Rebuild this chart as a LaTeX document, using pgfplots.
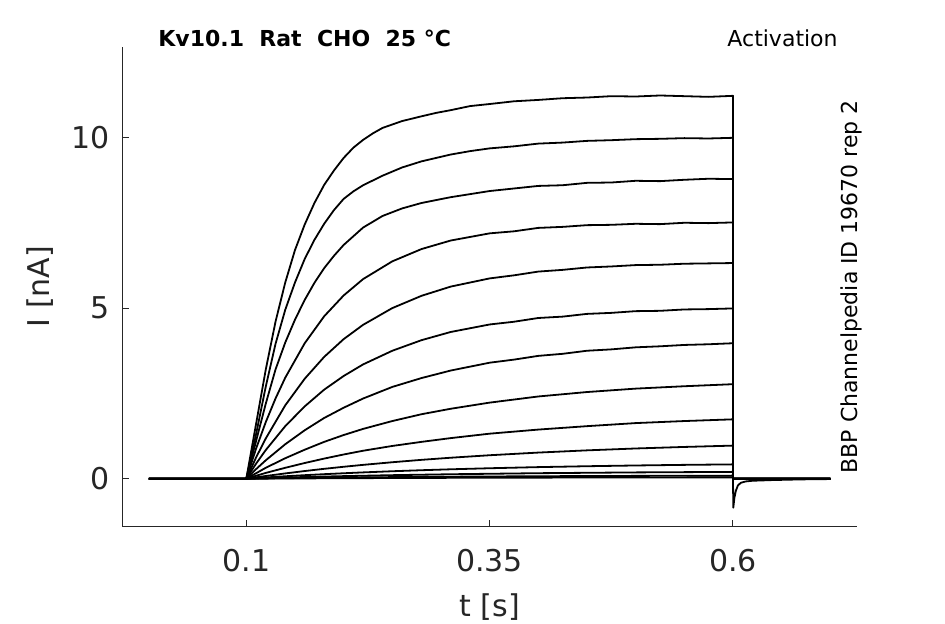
\documentclass[border=0pt]{standalone}
\usepackage{pgfplots}
\pgfplotsset{compat=1.18}
\usepackage{fontspec}
\setmainfont{DejaVu Sans}
\definecolor{axgray}{HTML}{262626}
\begin{document}
\begin{tikzpicture}
\path[use as bounding box] (-61.15pt,-48.65pt) rectangle (411.35pt,263.35pt);
\begin{axis}[
  at={(0pt,0pt)}, anchor=south west,
  scale only axis, width=367.35pt, height=240pt,
  xmin=-0.0274, xmax=0.7274, ymin=-1.406, ymax=12.66,
  axis x line*=bottom, axis y line*=left,
  axis line style={-, draw=axgray, line width=0.5pt},
  xtick={0.1,0.35,0.6}, xticklabels={0.1,0.35,0.6},
  ytick={0,5,10}, yticklabels={0,5,10},
  tick align=inside, major tick length=3.5pt,
  tick style={draw=axgray, line width=0.5pt},
  ticklabel style={font=\fontsize{15}{18}\selectfont, text=axgray},
  xticklabel style={yshift=-7.5pt},
  yticklabel style={xshift=-3pt},
  /pgf/number format/assume math mode=true,
  every axis plot post/.append style={black, solid, line width=0.9pt, mark=none, line join=round},
  clip=false,
]
\addplot coordinates {(0,0)(0.1,0)(0.11,1.6)(0.12,3.2)(0.13,4.6)(0.14,5.75)(0.15,6.7)(0.16,7.45)(0.17,8.08)(0.18,8.61)(0.19,9.03)(0.2,9.4)(0.21,9.7)(0.22,9.93)(0.23,10.12)(0.24,10.28)(0.26,10.48)(0.28,10.62)(0.295,10.72)(0.31,10.8)(0.33,10.92)(0.35,10.98)(0.375,11.06)(0.4,11.1)(0.425,11.15)(0.45,11.17)(0.475,11.21)(0.5,11.2)(0.525,11.23)(0.55,11.21)(0.575,11.19)(0.6,11.22)(0.6,0)(0.7,0)};
\addplot coordinates {(0,0)(0.1,0)(0.11,1.3)(0.12,2.7)(0.13,3.95)(0.14,4.95)(0.15,5.75)(0.16,6.44)(0.17,7.0)(0.18,7.47)(0.19,7.87)(0.2,8.2)(0.21,8.42)(0.22,8.6)(0.24,8.88)(0.26,9.12)(0.28,9.3)(0.31,9.5)(0.33,9.6)(0.35,9.68)(0.375,9.74)(0.4,9.82)(0.425,9.85)(0.45,9.9)(0.475,9.92)(0.5,9.95)(0.525,9.96)(0.55,9.98)(0.575,9.97)(0.6,9.99)(0.6,0)(0.7,0)};
\addplot coordinates {(0,0)(0.1,0)(0.11,1.1)(0.12,2.2)(0.13,3.2)(0.14,3.99)(0.15,4.66)(0.16,5.24)(0.17,5.74)(0.18,6.17)(0.19,6.53)(0.2,6.85)(0.22,7.36)(0.24,7.7)(0.26,7.92)(0.28,8.08)(0.31,8.25)(0.35,8.43)(0.4,8.58)(0.425,8.6)(0.45,8.67)(0.475,8.68)(0.5,8.73)(0.525,8.72)(0.55,8.76)(0.575,8.79)(0.6,8.78)(0.6,0)(0.7,0)};
\addplot coordinates {(0,0)(0.1,0)(0.11,0.88)(0.12,1.66)(0.13,2.35)(0.14,2.96)(0.16,3.97)(0.18,4.76)(0.2,5.37)(0.22,5.85)(0.25,6.37)(0.28,6.73)(0.31,6.98)(0.35,7.19)(0.375,7.25)(0.4,7.35)(0.425,7.38)(0.45,7.43)(0.475,7.44)(0.5,7.47)(0.525,7.46)(0.55,7.5)(0.575,7.49)(0.6,7.51)(0.6,0)(0.7,0)};
\addplot coordinates {(0,0)(0.1,0)(0.11,0.62)(0.12,1.18)(0.14,2.15)(0.16,2.93)(0.18,3.57)(0.2,4.09)(0.22,4.51)(0.25,5.0)(0.28,5.36)(0.31,5.63)(0.35,5.87)(0.375,5.96)(0.4,6.07)(0.425,6.12)(0.45,6.19)(0.475,6.22)(0.5,6.26)(0.525,6.27)(0.55,6.3)(0.575,6.31)(0.6,6.32)(0.6,0)(0.7,0)};
\addplot coordinates {(0,0)(0.1,0)(0.11,0.44)(0.12,0.84)(0.14,1.54)(0.16,2.12)(0.18,2.61)(0.2,3.01)(0.22,3.35)(0.25,3.75)(0.28,4.06)(0.31,4.3)(0.35,4.52)(0.375,4.6)(0.4,4.71)(0.425,4.75)(0.45,4.83)(0.475,4.86)(0.5,4.91)(0.525,4.92)(0.55,4.96)(0.575,4.97)(0.6,4.99)(0.6,0)(0.7,0)};
\addplot coordinates {(0,0)(0.1,0)(0.11,0.28)(0.12,0.54)(0.14,1.01)(0.16,1.42)(0.18,1.78)(0.2,2.08)(0.22,2.35)(0.25,2.69)(0.28,2.95)(0.31,3.17)(0.35,3.4)(0.375,3.49)(0.4,3.6)(0.425,3.66)(0.45,3.75)(0.475,3.79)(0.5,3.85)(0.525,3.88)(0.55,3.92)(0.575,3.94)(0.6,3.97)(0.6,0)(0.7,0)};
\addplot coordinates {(0,0)(0.1,0)(0.11,0.16)(0.12,0.32)(0.14,0.6)(0.16,0.85)(0.18,1.08)(0.2,1.28)(0.22,1.46)(0.25,1.69)(0.28,1.89)(0.31,2.05)(0.35,2.23)(0.4,2.41)(0.45,2.54)(0.5,2.64)(0.55,2.71)(0.6,2.77)(0.6,0)(0.7,0)};
\addplot coordinates {(0,0)(0.1,0)(0.11,0.086)(0.12,0.17)(0.14,0.32)(0.16,0.46)(0.18,0.59)(0.2,0.71)(0.22,0.82)(0.25,0.96)(0.28,1.08)(0.31,1.19)(0.35,1.32)(0.4,1.44)(0.45,1.54)(0.5,1.63)(0.55,1.69)(0.6,1.74)(0.6,0)(0.7,0)};
\addplot coordinates {(0,0)(0.1,0)(0.12,0.08)(0.14,0.155)(0.16,0.225)(0.18,0.29)(0.2,0.35)(0.22,0.406)(0.25,0.483)(0.28,0.553)(0.31,0.615)(0.35,0.688)(0.4,0.766)(0.45,0.831)(0.5,0.886)(0.55,0.931)(0.6,0.97)(0.6,0)(0.7,0)};
\addplot coordinates {(0,0)(0.1,0)(0.12,0.037)(0.14,0.072)(0.16,0.104)(0.18,0.133)(0.2,0.16)(0.22,0.185)(0.25,0.219)(0.28,0.249)(0.31,0.276)(0.35,0.307)(0.4,0.34)(0.45,0.366)(0.5,0.388)(0.55,0.406)(0.6,0.42)(0.6,0)(0.7,0)};
\addplot coordinates {(0,0)(0.1,0)(0.16,0.05)(0.2,0.076)(0.25,0.104)(0.31,0.131)(0.4,0.162)(0.5,0.185)(0.6,0.2)(0.6,0)(0.7,0)};
\addplot coordinates {(0,0)(0.1,0)(0.16,0.022)(0.2,0.034)(0.25,0.047)(0.31,0.059)(0.4,0.073)(0.5,0.083)(0.6,0.09)(0.6,0)(0.7,0)};
\addplot coordinates {(0,0)(0.1,0)(0.2,0.015)(0.3,0.025)(0.4,0.032)(0.5,0.037)(0.6,0.04)(0.6,0)(0.7,0)};
\addplot coordinates {(0.6,0)(0.6003,-0.85)(0.6015,-0.55)(0.603,-0.35)(0.605,-0.2)(0.608,-0.12)(0.613,-0.08)(0.62,-0.06)(0.64,-0.04)(0.67,-0.02)(0.7,-0.01)};
\end{axis}
\node[anchor=base, inner sep=0pt, text=axgray, font=\fontsize{15}{18}\selectfont] at (183.65pt,-45.15pt) {t [s]};
\node[rotate=90, anchor=base, inner sep=0pt, text=axgray, font=\fontsize{15}{18}\selectfont] at (-36.45pt,120pt) {I [nA]};
\node[anchor=base west, inner sep=0pt, font=\fontsize{11}{13}\selectfont\bfseries] at (17.85pt,240pt) {Kv10.1\ \ Rat\ \ CHO\ \ 25 °C};
\node[anchor=base east, inner sep=0pt, font=\fontsize{11}{13}\selectfont] at (357.85pt,240pt) {Activation};
\node[rotate=90, anchor=base, inner sep=0pt, font=\fontsize{11}{13}\selectfont] at (367.35pt,120pt) {BBP Channelpedia ID 19670 rep 2};
\end{tikzpicture}
\end{document}
